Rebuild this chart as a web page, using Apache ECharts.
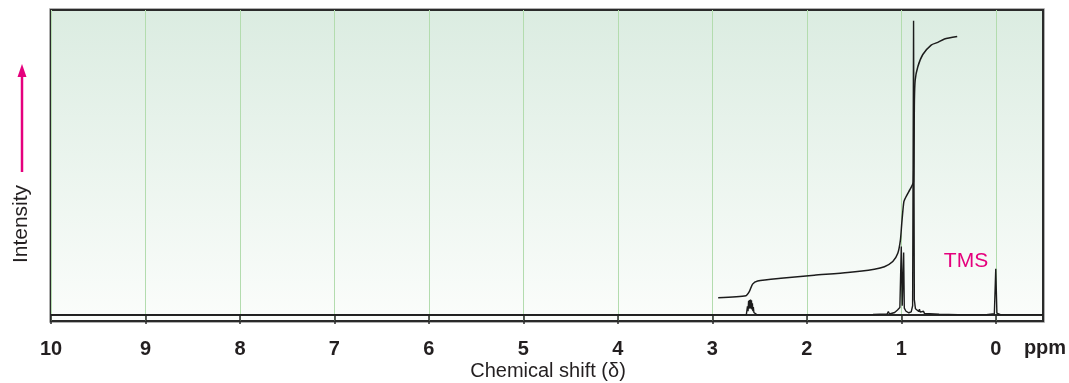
<!DOCTYPE html>
<html>
<head>
<meta charset="utf-8">
<script src="https://cdn.jsdelivr.net/npm/echarts@6/dist/echarts.min.js"></script>
<style>
html,body{margin:0;padding:0;background:#fff;}
#c{width:1069px;height:383px;}
</style>
</head>
<body>
<div id="c"></div>
<script>
// ---- data ----
var tickValues = [0, 1, 2, 3, 4, 5, 6, 7, 8, 9, 10];
var spectrumPpm = [10.0, 7.32, 7.30, 7.28, 4.53, 4.51, 4.49,
  2.64, 2.628, 2.622, 2.616, 2.611, 2.606, 2.601, 2.596, 2.591, 2.586, 2.581, 2.576, 2.571, 2.566, 2.56, 2.55, 2.53,
  2.2, 1.3, 1.15, 1.137, 1.125, 1.07, 1.04, 1.015, 1.0, 0.99, 0.982, 0.975, 0.968, 0.95, 0.92,
  0.895, 0.88, 0.87, 0.862, 0.85, 0.83, 0.815, 0.808, 0.80, 0.78, 0.765, 0.755, 0.7, 0.6, 0.4,
  0.1, 0.015, 0.0, -0.012, -0.05, -0.5];
var spectrumIntensity = [0, 0, 0.5, 0, 0, -0.6, 0,
  0.1, 2.8, 1.2, 4.6, 2.0, 4.9, 2.2, 5.0, 2.0, 4.8, 1.8, 3.8, 1.2, 2.6, 0.8, 0.3, 0.1,
  0.1, 0.15, 0.3, 1.1, 0.3, 0.8, 1.6, 2.4, 22.4, 3.0, 2.6, 20.5, 2.2, 1.2, 0.7,
  1.0, 3.0, 96.5, 5.0, 2.0, 1.5, 1.1, 1.9, 0.9, 0.7, 1.2, 0.5, 0.4, 0.2, 0.1,
  0.1, 0.4, 15.1, 0.6, 0.1, 0.1];
var integralPpm = [2.938, 2.644, 2.609, 2.574, 2.521, 2.274, 1.921, 1.567, 1.285, 1.179, 1.090,
  1.037, 1.009, 0.995, 0.973, 0.949, 0.896, 0.871, 0.861, 0.853, 0.825, 0.772, 0.684, 0.613, 0.543, 0.408];
var integralValue = [5.6, 6.3, 7.6, 10.1, 11.1, 12.0, 13.0, 13.9, 15.0, 15.8, 17.5,
  20.2, 24.6, 30.0, 37.1, 38.8, 41.8, 43.7, 70.5, 77.0, 81.4, 85.4, 88.5, 89.4, 90.5, 91.3];

function zip(a, b) { return a.map(function (v, i) { return [v, b[i]]; }); }

var chart = echarts.init(document.getElementById('c'), null, {renderer: 'canvas'});
var FONT = 'Liberation Sans';
chart.setOption({
  animation: false,
  grid: {
    left: 51, right: 26, top: 10, bottom: 62,
    show: true,
    borderColor: '#2a2a2a',
    borderWidth: 2,
    backgroundColor: {
      type: 'linear', x: 0, y: 0, x2: 0, y2: 1,
      colorStops: [{offset: 0, color: '#dbece1'}, {offset: 1, color: '#fbfdfb'}]
    }
  },
  xAxis: {
    type: 'value', inverse: true, min: -0.5, max: 10,
    axisLine: {show: true, lineStyle: {color: '#2a2a2a', width: 2}},
    axisTick: {show: true, customValues: tickValues, length: 9, lineStyle: {color: '#2a2a2a', width: 1.5}},
    axisLabel: {show: true, customValues: tickValues, margin: 18, color: '#231f20',
      fontFamily: FONT, fontSize: 20, fontWeight: 'bold'},
    splitLine: {show: true, lineStyle: {color: '#b3dcae', width: 1}}
  },
  yAxis: {
    type: 'value', min: -2, max: 100, show: false,
    splitLine: {show: false}
  },
  series: [
    {
      type: 'line', data: zip(spectrumPpm, spectrumIntensity), symbol: 'none',
      lineStyle: {color: '#1c1c1c', width: 1.4}, z: 3
    },
    {
      type: 'line', data: zip(integralPpm, integralValue), symbol: 'none', smooth: 0.2,
      lineStyle: {color: '#1c1c1c', width: 1.5}, z: 3
    }
  ],
  graphic: [
    {type: 'rect', shape: {x: 49.5, y: 8.5, width: 995, height: 314}, style: {fill: 'none', stroke: '#b0b0b0', lineWidth: 1}, z: -1},
    {type: 'line', shape: {x1: 22, y1: 172, x2: 22, y2: 74}, style: {stroke: '#e5007d', lineWidth: 2.5}},
    {type: 'polygon', shape: {points: [[22, 64], [17.5, 77], [26.5, 77]]}, style: {fill: '#e5007d'}},
    {type: 'text', x: 21, y: 224, rotation: Math.PI / 2,
      style: {text: 'Intensity', fill: '#231f20', font: '21px "Liberation Sans"', align: 'center', verticalAlign: 'middle'}},
    {type: 'text', x: 966, y: 261,
      style: {text: 'TMS', fill: '#e5007d', font: '21px "Liberation Sans"', align: 'center', verticalAlign: 'middle'}},
    {type: 'text', x: 1045, y: 348,
      style: {text: 'ppm', fill: '#231f20', font: 'bold 20px "Liberation Sans"', align: 'center', verticalAlign: 'middle'}},
    {type: 'text', x: 548, y: 371,
      style: {text: 'Chemical shift (\u03b4)', fill: '#231f20', font: '20px "Liberation Sans"', align: 'center', verticalAlign: 'middle'}}
  ]
});
</script>
</body>
</html>
